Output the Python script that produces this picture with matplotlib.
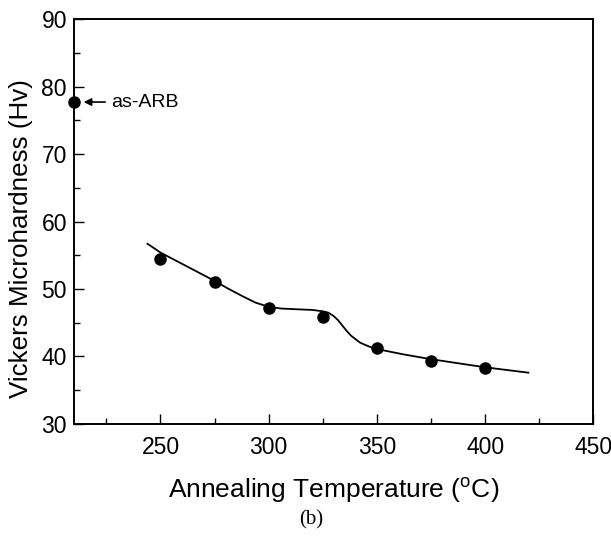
import matplotlib
matplotlib.use("Agg")
import matplotlib.pyplot as plt
from matplotlib.ticker import MultipleLocator

plt.rcParams['font.family'] = ['Liberation Sans', 'DejaVu Sans']

# measured hardness after annealing
temps = [250, 275, 300, 325, 350, 375, 400]
hardness = [54.5, 51.1, 47.2, 45.9, 41.3, 39.4, 38.3]

# as-ARB reference point
arb_temp = 210
arb_hardness = 77.7

# fitted curve, points
curve_x = [244, 250, 262.5, 275, 281, 287.5, 293.75, 300, 306, 312.5, 320, 325,
           327.5, 330, 332, 334, 336, 338, 340, 342, 344, 347, 350, 362.5, 375,
           387.5, 400, 420]
curve_y = [56.7, 55.4, 53.3, 51.2, 50.1, 49.0, 48.0, 47.35, 47.1, 47.0, 46.9, 46.7,
           46.5, 46.0, 45.4, 44.6, 43.8, 43.1, 42.6, 42.1, 41.8, 41.4, 41.1, 40.3,
           39.6, 39.0, 38.4, 37.6]

fig = plt.figure(figsize=(6.11, 5.39), dpi=100)
ax = fig.add_axes([0.121, 0.2134, 0.850, 0.7513])

ax.plot(curve_x, curve_y, color='black', lw=1.3)
ax.plot(temps, hardness, 'o', color='black', ms=8)
ax.plot([arb_temp], [arb_hardness], 'o', color='black', ms=8, clip_on=False, zorder=5)

ax.annotate('as-ARB', xy=(214.5, arb_hardness), xytext=(227, arb_hardness),
            fontsize=14, va='center', ha='left',
            arrowprops=dict(arrowstyle='-|>', color='black', lw=1.2,
                            mutation_scale=11, shrinkA=2, shrinkB=0))

ax.set_xlim(210, 450)
ax.set_ylim(30, 90)
ax.xaxis.set_major_locator(MultipleLocator(50))
ax.xaxis.set_minor_locator(MultipleLocator(25))
ax.yaxis.set_major_locator(MultipleLocator(10))
ax.yaxis.set_minor_locator(MultipleLocator(5))
ax.tick_params(which='both', direction='in', top=False, right=False,
               labelsize=16.5, width=1)
ax.tick_params(which='major', length=7)
ax.tick_params(which='minor', length=4)
ax.tick_params(axis='y', pad=5)
ax.tick_params(axis='x', pad=9)
for s in ax.spines.values():
    s.set_linewidth(1.4)

ax.set_xlabel('Annealing Temperature ($\\mathregular{^oC}$)', fontsize=19, labelpad=12)
ax.set_ylabel('Vickers Microhardness (Hv)', fontsize=18.7)
ax.yaxis.set_label_coords(-0.078, 0.458)

fig.text(0.509, 0.035, '(b)', fontsize=15, family='Liberation Serif',
         ha='center', va='center')

fig.savefig('out.png', dpi=100)
